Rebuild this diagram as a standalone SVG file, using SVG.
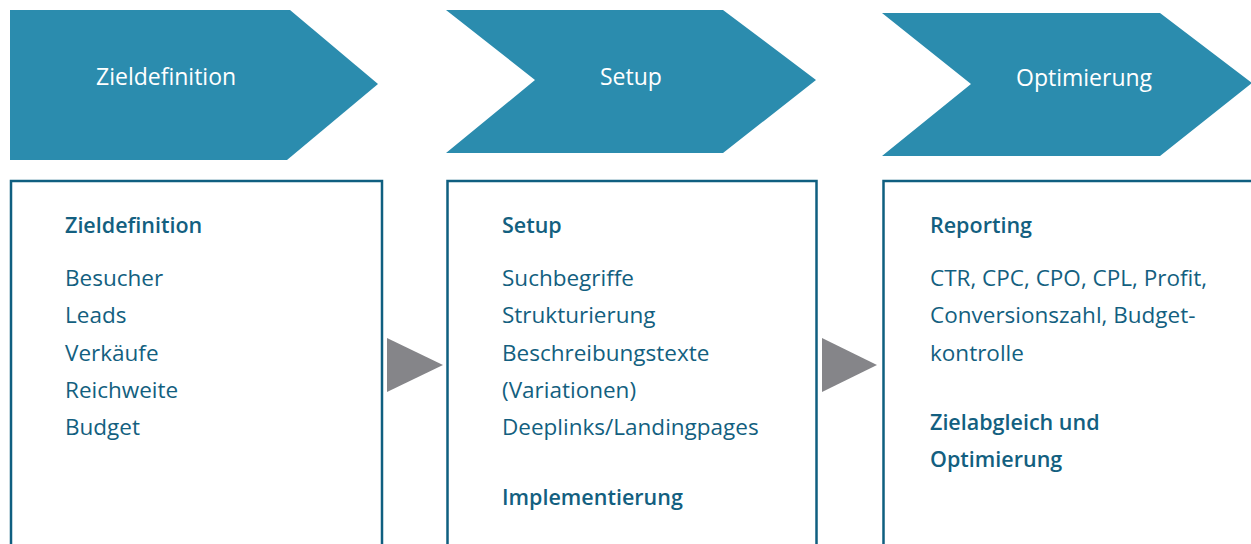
<svg xmlns="http://www.w3.org/2000/svg" width="1251" height="544" viewBox="0 0 1251 544">
  <style>
    .chev { fill: #2b8cae; }
    .chev-label { font-family: "Open Sans", "Noto Sans", sans-serif; font-size: 23px; fill: #ffffff; }
    .box { fill: #ffffff; stroke: #0f5f80; stroke-width: 2.5; }
    .item { font-family: "Open Sans", "Noto Sans", sans-serif; font-size: 22.5px; fill: #135f80; }
    .head { font-weight: 600; font-size: 21.5px; }
    .step { fill: #858589; }
  </style>
  <rect width="1251" height="544" fill="#ffffff"/>

  <!-- phase chevrons -->
  <g id="chevron-zieldefinition">
    <polygon class="chev" points="10,10 290,10 378,84 287,160 10,160"/>
    <text class="chev-label" x="96" y="85">Zieldefinition</text>
  </g>
  <g id="chevron-setup">
    <polygon class="chev" points="446,10 723,10 816,80 723,153 446,153 535,80"/>
    <text class="chev-label" x="600" y="85">Setup</text>
  </g>
  <g id="chevron-optimierung">
    <polygon class="chev" points="882,13 1160,13 1252,83 1160,156 882,156 971,84"/>
    <text class="chev-label" x="1016" y="86">Optimierung</text>
  </g>

  <!-- content boxes -->
  <g id="box-zieldefinition">
    <rect class="box" x="11" y="181" width="371" height="380"/>
    <text class="item head" x="65" y="233">Zieldefinition</text>
    <text class="item" x="65" y="286">Besucher</text>
    <text class="item" x="65" y="323">Leads</text>
    <text class="item" x="65" y="361">Verkäufe</text>
    <text class="item" x="65" y="398">Reichweite</text>
    <text class="item" x="65" y="435">Budget</text>
  </g>
  <g id="box-setup">
    <rect class="box" x="447.5" y="181" width="369" height="380"/>
    <text class="item head" x="502" y="233">Setup</text>
    <text class="item" x="502" y="286">Suchbegriffe</text>
    <text class="item" x="502" y="323">Strukturierung</text>
    <text class="item" x="502" y="361">Beschreibungstexte</text>
    <text class="item" x="502" y="398">(Variationen)</text>
    <text class="item" x="502" y="435">Deeplinks/Landingpages</text>
    <text class="item head" x="502" y="505">Implementierung</text>
  </g>
  <g id="box-optimierung">
    <rect class="box" x="883.5" y="181" width="380" height="380"/>
    <text class="item head" x="930" y="233">Reporting</text>
    <text class="item" x="930" y="286">CTR, CPC, CPO, CPL, Profit,</text>
    <text class="item" x="930" y="323">Conversionszahl, Budget-</text>
    <text class="item" x="930" y="361">kontrolle</text>
    <text class="item head" x="930" y="430">Zielabgleich und</text>
    <text class="item head" x="930" y="467">Optimierung</text>
  </g>

  <!-- connectors between boxes -->
  <g id="connectors">
    <polygon class="step" points="387,338 443,365 387,392"/>
    <polygon class="step" points="822,338 877,365 822,392"/>
  </g>
</svg>
